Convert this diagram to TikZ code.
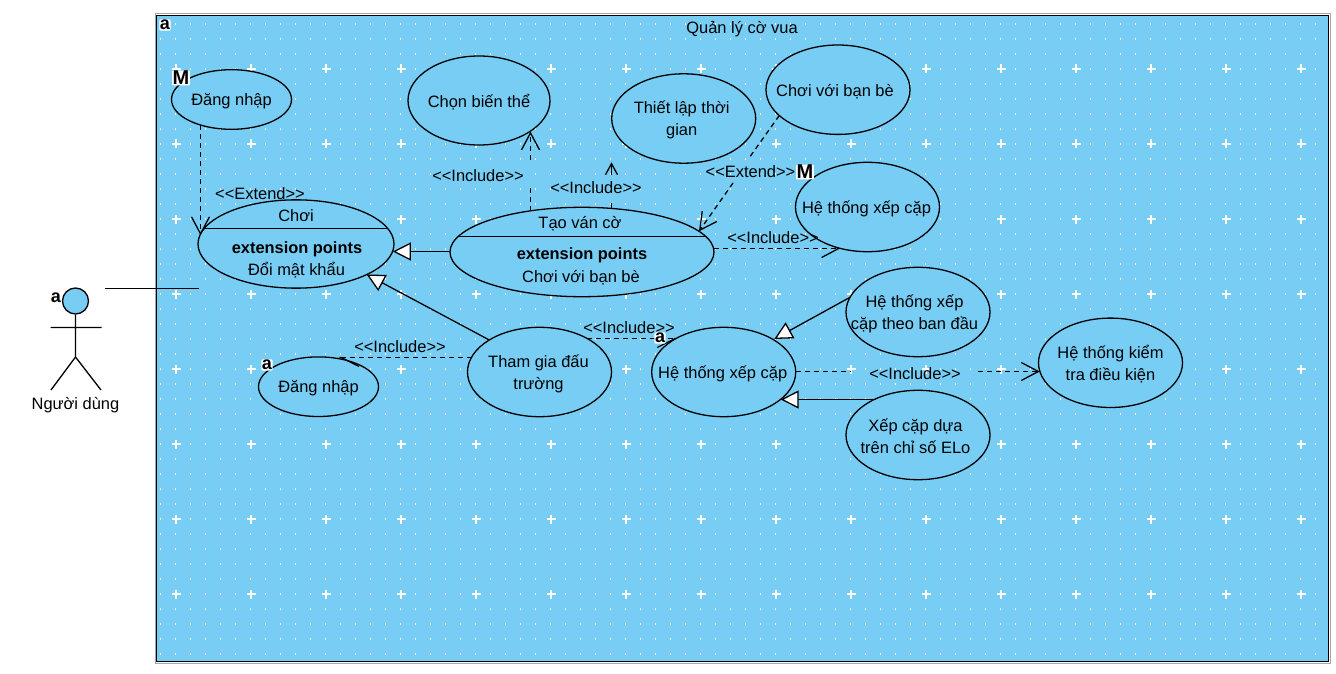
\documentclass[tikz,border=0pt]{standalone}
\usepackage{fontspec}
\setmainfont{Liberation Sans}
\usetikzlibrary{arrows.meta,shapes.geometric}
\pgfdeclarelayer{bgl}\pgfdeclarelayer{connl}\pgfsetlayers{bgl,connl,main}
\definecolor{ucblue}{HTML}{78CDF5}
\tikzset{
  every node/.style={font=\fontsize{16.45}{22}\selectfont,text=black},
  usecase/.style={shape=ellipse,draw=black,fill=ucblue,line width=1.3pt,inner sep=0pt,align=center},
  uc/.style={usecase,minimum width=144pt,minimum height=89.4pt},
  ucsmall/.style={usecase,minimum width=120pt,minimum height=59.6pt},
  inside/.style={label={[lbl,align=center,yshift=-1.6pt]center:{#1}}},
  insidex/.style 2 args={label={[lbl,align=center,yshift=-1.6pt,xshift=#1pt]center:{#2}}},
  conn/.style={line width=1.3pt,draw=black},
  dep/.style={conn,dash pattern=on 5pt off 4pt},
  barb/.style={-{Straight Barb[length=17pt,width=18pt]}},
  halfl/.style={-{Straight Barb[length=18pt,width=18pt,harpoon]}},
  halfr/.style={-{Straight Barb[length=18pt,width=18pt,harpoon,swap]}},
  tinybarb/.style={conn,-{Straight Barb[length=11pt,width=12pt]}},
  gen/.style={conn,-{Triangle[length=18pt,width=18pt,fill=white]}},
  lbl/.style={inner sep=0pt},
  boldlbl/.style={lbl,font=\fontsize{16.4}{20}\bfseries\selectfont},
  badge/.style={fill=white,inner sep=0.6pt,font=\fontsize{18}{18}\bfseries\selectfont,rounded corners=1pt},
  badgeM/.style={badge,font=\fontsize{20}{20}\bfseries\selectfont}
}
\begin{document}
\begin{tikzpicture}[x=1pt,y=-1pt]
\useasboundingbox (0,0) rectangle (1336,674);
\begin{pgfonlayer}{bgl}
  \fill[white] (0,0) rectangle (1336,674);
  \draw[gray!70,line width=1pt] (155.3,14) rectangle (1330,663);
  \draw[black,fill=ucblue,line width=1.5pt] (156.7,15.3) rectangle (1328.5,661.7);
  \foreach \i in {0,...,77} \foreach \j in {0,...,42}
    \fill[white] ({160.2+15*\i},{23+15*\j}) rectangle ++(1,2);
  \foreach \i in {0,...,15} \foreach \j in {0,...,7}{
    \fill[white] ({171.5+75*\i},{593.3-75*\j}) rectangle ++(9,1.5);
    \fill[white] ({175.3+75*\i},{589.5-75*\j}) rectangle ++(1.5,9);
  }
\end{pgfonlayer}

% use cases
\node[ucsmall,inside={Đăng nhập}] (dangTop) at (231.5,99.5) {};
\node[uc,minimum width=142pt,minimum height=89pt,inside={Chọn biến thể}] (chon) at (479,100.5) {};
\node[insidex={-2}{Thiết lập thời\\gian},uc] (thiet) at (683.7,118.5) {};
\node[insidex={-3}{Chơi với bạn bè},uc] (ban) at (838,89.7) {};
\node[insidex={-1}{Hệ thống xếp cặp},uc] (xepTop) at (867.5,207) {};
\node[usecase,minimum width=196pt,minimum height=88.3pt] (choi) at (296,244) {};
\node[usecase,minimum width=264pt,minimum height=89.4pt] (tao) at (582,252) {};
\node[insidex={-1}{Tham gia đấu\\trường},uc] (tham) at (539.5,372) {};
\node[insidex={-1}{Hệ thống xếp cặp},uc] (xepMid) at (723.7,372) {};
\node[ucsmall,inside={Đăng nhập}] (dangLow) at (318.5,386.7) {};
\node[insidex={-3.5}{Hệ thống xếp\\cặp theo ban đầu},uc] (banDau) at (918,312) {};
\node[insidex={-2.5}{Xếp cặp dựa\\trên chỉ số ELo},uc] (dua) at (918,435) {};
\node[uc,inside={Hệ thống kiểm\\tra điều kiện}] (kiem) at (1110.5,362.8) {};

% compartments
\draw[conn] ([shift={(-91.9,-15.3)}]choi.center) -- ([shift={(91.9,-15.3)}]choi.center);
\draw[conn] ([shift={(-124,-15.3)}]tao.center) -- ([shift={(124,-15.3)}]tao.center);
\node[lbl] (choiName) at (296,216) {Chơi};
\node[boldlbl] (choiExt) at (297,249) {extension points};
\node[lbl] (choiPt) at (296.5,270) {Đổi mật khẩu};
\node[lbl] (taoName) at (580,224) {Tạo ván cờ};
\node[boldlbl] (taoExt) at (582,255) {extension points};
\node[lbl] (taoPt) at (581,278) {Chơi với bạn bè};

% actor
\node[shape=circle,draw=black,fill=ucblue,line width=1.3pt,minimum size=26pt,inner sep=0pt] (head) at (75.5,301) {};
\coordinate (neck) at (75.5,357);
\coordinate (shL) at (50.5,327.5);
\coordinate (shR) at (101.5,327.5);
\coordinate (legL) at (51,390);
\coordinate (legR) at (101,390);
\draw[conn] (head) -- (neck) (shL) -- (shR) (legL) -- (neck) -- (legR);
\node[lbl] (actor) at (75.5,405) {Người dùng};
\coordinate (actorEnd) at (104.5,288.5);
\coordinate (choiEnd) at (198.5,288.5);

% gap points and free ends
\coordinate (g1a) at (530.5,185);
\coordinate (g1b) at (530.5,160);
\coordinate (g2a) at (611.5,200);
\coordinate (g2b) at (611.5,175);
\coordinate (g2t) at (611.5,162.3);
\coordinate (g3a) at (750,156.7);
\coordinate (g3b) at (733,183);
\coordinate (g4a) at (850,371.5);
\coordinate (g4b) at (978.3,371.5);

\begin{pgfonlayer}{connl}
  \draw[conn] (actorEnd) -- (choiEnd);
  \draw[dep,barb] ([shift={(-31,25.7)}]dangTop.center) -- ([shift={(-95.5,-8.8)}]choi.center);
  \draw[dep] ([shift={(-51.5,-41.1)}]tao.center) -- (g1a);
  \draw[dep,barb] (g1b) -- ([shift={(51.5,31)}]chon.center);
  \draw[dep] ([shift={(29.5,-43.6)}]tao.center) -- (g2a);
  \draw[tinybarb] (g2b) -- (g2t);
  \draw[dep] ([shift={(-58.7,25.8)}]ban.center) -- (g3a);
  \draw[dep,barb] (g3b) -- ([shift={(117,-20.7)}]tao.center);
  \draw[dep,barb] ([shift={(131.5,-3.5)}]tao.center) -- ([shift={(-27.5,41.5)}]xepTop.center);
  \draw[gen] ([shift={(-132,-0.5)}]tao.center) -- ([shift={(96.8,7.5)}]choi.center);
  \draw[gen] ([shift={(-50.2,-32)}]tham.center) -- ([shift={(70.7,30.5)}]choi.center);
  \draw[dep,halfr] ([shift={(47.2,-33.5)}]tham.center) -- ([shift={(-45.7,-33.5)}]xepMid.center);
  \draw[dep] ([shift={(72,-0.5)}]xepMid.center) -- (g4a);
  \draw[dep,barb] (g4b) -- ([shift={(-70.8,8.7)}]kiem.center);
  \draw[gen] ([shift={(-68,-14.7)}]banDau.center) -- ([shift={(50.6,-33)}]xepMid.center);
  \draw[gen] ([shift={(-43.8,-35.5)}]dua.center) -- ([shift={(57,27.5)}]xepMid.center);
\end{pgfonlayer}
\draw[dep,halfl] ([shift={(-68,-14.5)}]tham.center) -- ([shift={(19.8,-29.2)}]dangLow.center);

% labels
\node[lbl] (title) at (742,29) {Quản lý cờ vua};
\node[lbl] (l1) at (260,194) {<{}<Extend>{}>};
\node[lbl] (l2) at (478,176) {<{}<Include>{}>};
\node[lbl] (l3) at (596,188) {<{}<Include>{}>};
\node[lbl] (l4) at (750.5,171.5) {<{}<Extend>{}>};
\node[lbl] (l5) at (773,237.5) {<{}<Include>{}>};
\node[lbl] (l6) at (400,347) {<{}<Include>{}>};
\node[lbl] (l7) at (629,327.5) {<{}<Include>{}>};
\node[lbl] (l8) at (915,374) {<{}<Include>{}>};

% badges
\node[badge] (bFrame) at (165,25) {a};
\node[badgeM] (bDang) at (181,78) {M};
\node[badgeM] (bXep) at (805,172) {M};
\node[badge] (bActor) at (56,298) {a};
\node[badge] (bLow) at (267,365) {a};
\node[badge] (bMid) at (660,338) {a};
\end{tikzpicture}
\end{document}
